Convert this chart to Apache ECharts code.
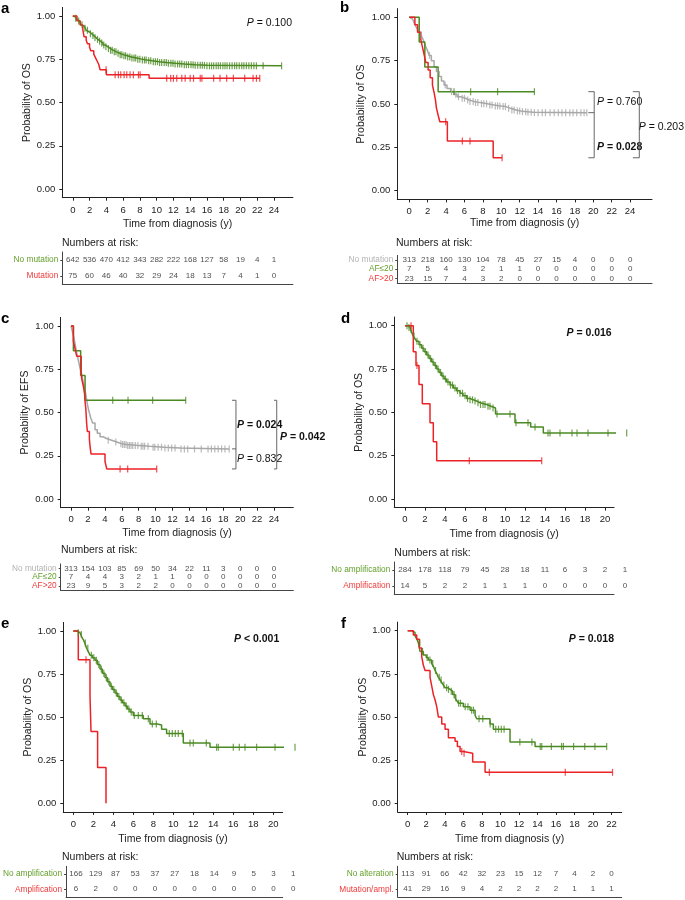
<!DOCTYPE html>
<html><head><meta charset="utf-8">
<script src="https://cdn.jsdelivr.net/npm/echarts@6/dist/echarts.min.js"></script>
<style>html,body{margin:0;padding:0;background:#fff}#c{width:685px;height:900px}</style>
</head><body><div id="c"></div>
<script>
// ---------------- DATA ----------------
const ticks24 = [0,2,4,6,8,10,12,14,16,18,20,22,24];
const ticks22 = [0,2,4,6,8,10,12,14,16,18,20,22];
const ticks20 = [0,2,4,6,8,10,12,14,16,18,20];
const yTicks = [0,0.25,0.5,0.75,1];

// Panel a
const aNoMutCurve = [[0,1],[0.15,0.995],[0.3,0.988],[0.45,0.98],[0.6,0.972],[0.8,0.962],[1.0,0.95],[1.2,0.94],[1.4,0.93],[1.6,0.918],[1.8,0.908],[2.0,0.898],[2.25,0.887],[2.5,0.876],[2.75,0.865],[3.0,0.855],[3.3,0.844],[3.6,0.832],[3.9,0.822],[4.2,0.812],[4.5,0.802],[4.85,0.793],[5.2,0.785],[5.6,0.777],[6.0,0.770],[6.5,0.763],[7.0,0.757],[7.6,0.751],[8.2,0.746],[8.8,0.741],[9.5,0.736],[10.3,0.731],[11.2,0.727],[12.2,0.723],[13.3,0.719],[14.6,0.715],[16.0,0.712],[24.9,0.712]];
const aNoMutCens = [0.35,0.7,1.1,1.45,1.75,2.1,2.4,2.65,2.95,3.2,3.45,3.7,3.95,4.25,4.5,4.7,4.95,5.15,5.4,5.65,5.85,6.1,6.3,6.55,6.8,7.05,7.3,7.5,7.75,8.0,8.3,8.55,8.75,9.05,9.3,9.6,9.85,10.1,10.35,10.6,10.9,11.15,11.4,11.7,11.95,12.2,12.5,12.75,13.0,13.3,13.55,13.8,14.1,14.35,14.6,14.9,15.2,15.45,15.7,16.0,16.3,16.55,16.8,17.1,17.35,17.6,17.9,18.15,18.4,18.7,19.0,19.3,19.55,19.85,20.15,20.4,20.7,21.0,21.3,21.6,21.9,22.7,24.9];
const aMutCurve = [[0,1],[0.5,0.973],[0.87,0.948],[1.2,0.92],[1.35,0.88],[1.6,0.86],[1.75,0.84],[2.0,0.82],[2.15,0.80],[2.5,0.78],[2.7,0.76],[2.9,0.74],[3.1,0.72],[3.25,0.69],[4.0,0.66],[9.1,0.64],[22.3,0.64]];
const aMutCens = [3.97,5.05,5.44,5.72,6.12,6.44,6.83,7.23,7.83,8.03,11.2,11.68,12.0,12.4,13.0,13.4,14.0,14.4,15.2,15.4,16.8,17.56,18.35,19.15,20.5,21.5,21.9,22.3];
const aRowLabels = ['No mutation','Mutation'];
const aRiskNoMut = [642,536,470,412,343,282,222,168,127,58,19,4,1];
const aRiskMut = [75,60,46,40,32,29,24,18,13,7,4,1,0];

// Panel b
const bNoMutCurve = [[0,1],[0.2,0.99],[0.36,0.985],[0.55,0.965],[0.72,0.946],[0.9,0.93],[1.08,0.917],[1.25,0.898],[1.44,0.879],[1.62,0.855],[1.8,0.83],[2.0,0.805],[2.16,0.78],[2.4,0.75],[2.7,0.715],[2.95,0.688],[3.24,0.658],[3.5,0.633],[3.78,0.61],[4.1,0.59],[4.5,0.571],[4.85,0.556],[5.2,0.542],[5.6,0.533],[6.1,0.523],[6.5,0.515],[7.0,0.508],[7.7,0.501],[8.47,0.494],[9.2,0.489],[9.9,0.485],[10.5,0.475],[11.0,0.465],[11.6,0.46],[12.1,0.456],[12.8,0.452],[13.5,0.45],[19.3,0.45]];
const bNoMutCens = [1.3,2.2,3.1,3.9,4.6,5.05,5.35,5.75,6.0,6.35,6.6,6.95,7.2,7.45,7.85,8.1,8.4,8.75,9.0,9.35,9.6,9.85,10.2,10.45,10.8,11.15,11.4,11.75,12.0,12.3,12.65,12.9,13.25,13.6,14.0,14.45,14.8,15.3,15.75,16.2,16.6,17.0,17.45,17.8,18.2,18.65,19.0,19.3];
const bAfLowCurve = [[0,1],[1.08,0.857],[1.69,0.714],[3.14,0.571],[13.6,0.571]];
const bAfLowCens = [4.86,6.67,9.6,13.6];
const bAfHighCurve = [[0,1],[0.61,0.957],[0.9,0.913],[1.26,0.87],[1.44,0.826],[1.62,0.783],[1.8,0.739],[2.05,0.696],[2.27,0.652],[2.52,0.609],[2.7,0.565],[2.85,0.522],[2.95,0.478],[3.14,0.435],[3.32,0.398],[4.14,0.286],[9.12,0.19],[10.09,0.19]];
const bAfHighCens = [3.96,5.77,6.6,10.09];
const bRowLabels = ['No mutation','AF≤20','AF>20'];
const bRiskNoMut = [313,218,160,130,104,78,45,27,15,4,0,0,0];
const bRiskAfLow = [7,5,4,3,2,1,1,0,0,0,0,0,0];
const bRiskAfHigh = [23,15,7,4,3,2,0,0,0,0,0,0,0];

// Panel c
const cNoMutCurve = [[0,1],[0.15,0.97],[0.3,0.94],[0.47,0.9],[0.65,0.85],[0.87,0.8],[1.05,0.76],[1.26,0.72],[1.45,0.675],[1.66,0.63],[1.8,0.59],[1.93,0.55],[2.1,0.51],[2.33,0.47],[2.55,0.44],[2.84,0.40],[3.1,0.38],[3.43,0.36],[3.8,0.35],[4.2,0.34],[4.8,0.33],[5.4,0.32],[6.0,0.315],[6.6,0.31],[8.0,0.305],[9.3,0.30],[11.0,0.295],[12.9,0.29],[18.7,0.29]];
const cNoMutCens = [4.4,5.3,5.9,6.1,6.3,6.5,6.7,6.9,7.1,7.3,7.6,7.9,8.3,8.5,8.7,9.1,9.7,9.9,10.3,10.7,11.1,11.5,11.9,12.3,13.0,13.4,13.8,14.6,15.4,16.2,16.6,17.0,17.4,17.8,18.2,18.7];
const cAfLowCurve = [[0,1],[0.28,0.857],[1.14,0.714],[1.66,0.571],[13.56,0.571]];
const cAfLowCens = [4.93,6.74,9.65,13.56];
const cAfHighCurve = [[0,1],[0.28,0.913],[0.47,0.87],[0.67,0.826],[1.2,0.739],[1.26,0.696],[1.46,0.652],[1.6,0.609],[1.66,0.565],[1.75,0.522],[1.8,0.478],[1.85,0.435],[1.93,0.391],[2.17,0.348],[2.25,0.304],[2.36,0.261],[4.02,0.217],[4.22,0.174],[10.13,0.174]];
const cAfHighCens = [5.8,6.7,10.13];
const cRowLabels = ['No mutation','AF≤20','AF>20'];
const cRiskNoMut = [313,154,103,85,69,50,34,22,11,3,0,0,0];
const cRiskAfLow = [7,4,4,3,2,1,1,0,0,0,0,0,0];
const cRiskAfHigh = [23,9,5,3,2,2,0,0,0,0,0,0,0];

// Panel d
const dNoAmpCurve = [[0,1],[0.25,0.99],[0.5,0.98],[0.67,0.96],[0.83,0.94],[1.0,0.925],[1.17,0.91],[1.4,0.89],[1.67,0.87],[1.9,0.85],[2.17,0.83],[2.4,0.81],[2.67,0.79],[2.9,0.77],[3.17,0.75],[3.4,0.73],[3.67,0.71],[3.9,0.692],[4.17,0.675],[4.5,0.657],[4.83,0.64],[5.15,0.625],[5.5,0.61],[5.8,0.595],[6.17,0.58],[6.5,0.572],[6.83,0.565],[7.15,0.555],[7.5,0.545],[8.17,0.535],[8.6,0.525],[9.05,0.49],[11.0,0.44],[12.57,0.415],[13.83,0.38],[22.17,0.38]];
const dNoAmpCens = [0.2,0.4,0.6,0.9,1.2,1.5,1.8,2.05,2.3,2.55,2.8,3.05,3.3,3.55,3.8,4.05,4.3,4.55,4.75,5.0,5.25,5.5,5.75,6.0,6.25,6.5,6.75,7.0,7.3,7.55,7.8,8.0,8.3,8.5,8.8,9.2,10.5,11.1,12.3,13.0,14.3,14.5,15.5,16.7,17.2,18.3,20.3,22.17];
const dAmpCurve = [[0,1],[0.83,0.85],[1.1,0.77],[1.4,0.66],[1.73,0.55],[2.5,0.44],[2.83,0.33],[3.17,0.22],[13.67,0.22]];
const dAmpCens = [0.6,1.2,6.43,13.67];
const dRowLabels = ['No amplification','Amplification'];
const dRiskNoAmp = [284,178,118,79,45,28,18,11,6,3,2,1];
const dRiskAmp = [14,5,2,2,1,1,1,0,0,0,0,0];

// Panel e
const eNoAmpCurve = [[0,1],[0.4,0.99],[0.67,0.98],[0.85,0.965],[1.0,0.95],[1.15,0.93],[1.33,0.9],[1.5,0.88],[1.67,0.86],[1.9,0.845],[2.17,0.83],[2.4,0.805],[2.67,0.78],[2.9,0.755],[3.17,0.73],[3.4,0.705],[3.67,0.68],[3.9,0.66],[4.17,0.64],[4.4,0.62],[4.67,0.6],[4.9,0.583],[5.17,0.565],[5.4,0.548],[5.67,0.53],[6.0,0.51],[7.0,0.49],[7.67,0.46],[8.4,0.455],[8.83,0.43],[9.33,0.405],[11.0,0.35],[13.67,0.325],[22.17,0.325]];
const eNoAmpCens = [0.5,0.8,1.2,1.45,1.8,2.05,2.3,2.55,2.8,3.05,3.3,3.55,3.8,4.05,4.3,4.55,4.8,5.05,5.3,5.55,5.8,6.1,6.5,6.9,7.5,7.9,8.3,9.6,9.9,10.2,10.5,10.9,11.67,12.0,13.3,14.33,14.5,16.0,16.6,17.17,18.33,20.17,22.17];
const eAmpCurve = [[0,1],[0.5,0.833],[1.67,0.625],[1.77,0.417],[2.43,0.208],[3.27,0]];
const eAmpCens = [1.27];
const eRowLabels = ['No amplification','Amplification'];
const eRiskNoAmp = [166,129,87,53,37,27,18,14,9,5,3,1];
const eRiskAmp = [6,2,0,0,0,0,0,0,0,0,0,0];

// Panel f
const fNoAltCurve = [[0,1],[0.43,0.99],[0.79,0.97],[1.0,0.95],[1.15,0.93],[1.33,0.88],[1.69,0.86],[2.0,0.845],[2.23,0.83],[2.59,0.81],[2.8,0.79],[2.95,0.77],[3.15,0.75],[3.31,0.73],[3.5,0.715],[3.67,0.7],[3.85,0.685],[4.03,0.67],[4.3,0.66],[4.57,0.65],[4.85,0.63],[5.11,0.61],[5.3,0.595],[5.47,0.58],[6.0,0.56],[6.73,0.54],[7.27,0.51],[7.45,0.49],[8.88,0.46],[9.24,0.43],[11.04,0.355],[13.74,0.33],[21.47,0.33]];
const fNoAltCens = [1.3,1.6,2.1,2.4,2.7,3.0,3.4,3.6,3.9,4.2,4.4,4.7,5.0,5.2,5.5,5.7,6.2,6.5,6.9,7.1,7.7,8.1,8.9,9.5,9.8,10.1,10.4,12.1,13.4,14.3,14.46,15.5,16.6,16.8,17.9,19.1,20.2,21.47];
const fAltCurve = [[0,1],[0.61,0.976],[0.97,0.95],[1.26,0.9],[1.51,0.85],[1.69,0.8],[1.87,0.77],[2.41,0.73],[2.59,0.68],[2.77,0.63],[2.95,0.6],[3.13,0.56],[3.31,0.5],[3.67,0.46],[4.03,0.43],[4.39,0.38],[5.11,0.36],[5.36,0.33],[5.65,0.3],[6.0,0.29],[7.01,0.24],[8.35,0.18],[22.1,0.18]];
const fAltCens = [5.83,6.08,8.81,17.0,22.1];
const fRowLabels = ['No alteration','Mutation/ampl.'];
const fRiskNoAlt = [113,91,66,42,32,23,15,12,7,4,2,0];
const fRiskAlt = [41,29,16,9,4,2,2,2,2,1,1,1];

// ---------------- STYLE ----------------
const FONT = "'Liberation Sans',Arial,Helvetica,sans-serif";
const GREEN = '#4b8a22', RED = '#ec2227', GRAY = '#a8a8a8';
const LG = '#64a02c', LR = '#ef3a3a', LGR = '#b3b3b3';
const AX = '#222';
const TITLE_FS = 10.5, TICK_FS = 9.5, ROW_FS = 8.3, NUM_FS = 8, P_FS = 10.5;

const panels = [
  {letter:'a', lx:1, ly:1, plot:{left:62.3,top:7.4,width:230.6,height:190.3}, xMin:-1.25, xMax:26.25, ticks:ticks24, yName:'Probability of OS', yGap:26, xGap:21, xMargin:8,
   curves:[[aNoMutCurve,aNoMutCens,GREEN],[aMutCurve,aMutCens,RED]],
   table:{top:252,height:32, rows:aRowLabels, colors:[LG,LR], values:[aRiskNoMut,aRiskMut], times:ticks24}, nar:[62,243.3],
   pvals:[{t:'{i|P} = 0.100', x:292, y:23, align:'right', bold:false}]},
  {letter:'b', lx:340, ly:0, plot:{left:397.3,top:8.6,width:254.7,height:190.8}, xMin:-1.3, xMax:26.38, ticks:ticks24, yName:'Probability of OS', yGap:31, xGap:18.5, xMargin:7,
   curves:[[bNoMutCurve,bNoMutCens,GRAY],[bAfLowCurve,bAfLowCens,GREEN],[bAfHighCurve,bAfHighCens,RED]],
   table:{top:255.4,height:27.5, rows:bRowLabels, colors:[LGR,LG,LR], values:[bRiskNoMut,bRiskAfLow,bRiskAfHigh], times:ticks24}, nar:[396,243.3],
   brackets:{inner:[19.46,20.1], outer:[24.3,25.0], top:bAfLowCurve, mid:bNoMutCurve, bot:bAfHighCurve},
   pvals:[{t:'{i|P} = 0.760', x:597, y:101.7, align:'left', bold:false},{t:'{i|P} = 0.028', x:597, y:146.7, align:'left', bold:true},{t:'{i|P} = 0.203', x:684, y:126.7, align:'right', bold:false}]},
  {letter:'c', lx:1, ly:311, plot:{left:60.7,top:317.4,width:232.6,height:190.3}, xMin:-1.22, xMax:26.28, ticks:ticks24, yName:'Probability of EFS', yGap:30, xGap:20.3, xMargin:7,
   curves:[[cNoMutCurve,cNoMutCens,GRAY],[cAfLowCurve,cAfLowCens,GREEN],[cAfHighCurve,cAfHighCens,RED]],
   table:{top:563.9,height:26.5, rows:cRowLabels, colors:[LGR,LG,LR], values:[cRiskNoMut,cRiskAfLow,cRiskAfHigh], times:ticks24}, nar:[61,550],
   brackets:{inner:[19.03,19.5], outer:[24.0,24.32], top:cAfLowCurve, mid:cNoMutCurve, bot:cAfHighCurve},
   pvals:[{t:'{i|P} = 0.024', x:237, y:425, align:'left', bold:true},{t:'{i|P} = 0.832', x:237, y:459, align:'left', bold:false},{t:'{i|P} = 0.042', x:280, y:436.7, align:'left', bold:true}]},
  {letter:'d', lx:341, ly:311, plot:{left:394.3,top:317.0,width:219.7,height:190.6}, xMin:-1.07, xMax:20.9, ticks:ticks20, yName:'Probability of OS', yGap:29.5, xGap:21.3, xMargin:7,
   curves:[[dNoAmpCurve,dNoAmpCens,GREEN],[dAmpCurve,dAmpCens,RED]],
   table:{top:562,height:32, rows:dRowLabels, colors:[LG,LR], values:[dRiskNoAmp,dRiskAmp], times:ticks22}, nar:[394.3,552.7],
   pvals:[{t:'{i|P} = 0.016', x:611.7, y:332.7, align:'right', bold:true}]},
  {letter:'e', lx:1, ly:616, plot:{left:63.3,top:622.4,width:219.4,height:189.5}, xMin:-1.0, xMax:20.94, ticks:ticks20, yName:'Probability of OS', yGap:30, xGap:22, xMargin:7,
   curves:[[eNoAmpCurve,eNoAmpCens,GREEN],[eAmpCurve,eAmpCens,RED]],
   table:{top:866.3,height:30.6, rows:eRowLabels, colors:[LG,LR], values:[eRiskNoAmp,eRiskAmp], times:ticks22}, nar:[62,856.7],
   pvals:[{t:'{i|P} < 0.001', x:279.3, y:639.3, align:'right', bold:true}]},
  {letter:'f', lx:341, ly:616, plot:{left:397.7,top:622.1,width:224,height:189.9}, xMin:-1.08, xMax:23.09, ticks:ticks22, yName:'Probability of OS', yGap:29.5, xGap:22, xMargin:7,
   curves:[[fNoAltCurve,fNoAltCens,GREEN],[fAltCurve,fAltCens,RED]],
   table:{top:866.3,height:30.6, rows:fRowLabels, colors:[LG,LR], values:[fRiskNoAlt,fRiskAlt], times:ticks22}, nar:[396.7,856.7],
   pvals:[{t:'{i|P} = 0.018', x:614, y:639.3, align:'right', bold:true}]}
];

function survAt(curve, t){ let s = curve[0][1]; for (const p of curve){ if (p[0] <= t + 1e-9) s = p[1]; } return s; }
function lastS(curve){ return curve[curve.length-1][1]; }

const option = {animation:false, backgroundColor:'#fff', grid:[], xAxis:[], yAxis:[], series:[], graphic:[]};

panels.forEach(p => {
  const gi = option.grid.length;
  option.grid.push({left:p.plot.left, top:p.plot.top, width:p.plot.width, height:p.plot.height});
  option.xAxis.push({type:'value', gridIndex:gi, min:p.xMin, max:p.xMax,
    name:'Time from diagnosis (y)', nameLocation:'middle', nameGap:p.xGap,
    nameTextStyle:{fontSize:TITLE_FS, color:'#222', fontFamily:FONT},
    axisLine:{show:true, onZero:false, lineStyle:{color:AX, width:1}},
    axisTick:{show:true, length:3, customValues:p.ticks, lineStyle:{color:AX}},
    axisLabel:{customValues:p.ticks, fontSize:TICK_FS, color:'#222', fontFamily:FONT, margin:p.xMargin},
    splitLine:{show:false}});
  option.yAxis.push({type:'value', gridIndex:gi, min:-0.05, max:1.05,
    name:p.yName, nameLocation:'middle', nameGap:p.yGap, nameRotate:90,
    nameTextStyle:{fontSize:TITLE_FS, color:'#222', fontFamily:FONT},
    axisLine:{show:true, onZero:false, lineStyle:{color:AX, width:1}},
    axisTick:{show:true, length:3, customValues:yTicks, lineStyle:{color:AX}},
    axisLabel:{customValues:yTicks, fontSize:TICK_FS, color:'#222', fontFamily:FONT, margin:7, formatter:v=>v.toFixed(2)},
    splitLine:{show:false}});

  if (p.brackets){
    const b = p.brackets, yt = lastS(b.top), ym = lastS(b.mid), yb = lastS(b.bot);
    const br = (d) => ({type:'line', xAxisIndex:gi, yAxisIndex:gi, data:d, symbol:'none', clip:false, silent:true,
      lineStyle:{color:'#555', width:0.9}, z:1});
    option.series.push(br([[b.inner[0],yt],[b.inner[1],yt],[b.inner[1],yb],[b.inner[0],yb]]));
    option.series.push(br([[b.inner[0],ym],[b.inner[1],ym]]));
    option.series.push(br([[b.outer[0],yt],[b.outer[1],yt],[b.outer[1],yb],[b.outer[0],yb]]));
  }

  p.curves.forEach(([curve, cens, color]) => {
    option.series.push({type:'line', xAxisIndex:gi, yAxisIndex:gi, data:curve, step:'end', symbol:'none', clip:false,
      lineStyle:{color:color, width:1.5}, silent:true, z:3});
    option.series.push({type:'scatter', xAxisIndex:gi, yAxisIndex:gi, clip:false, silent:true, z:4,
      data:cens.map(t => [t, survAt(curve, t)]), symbol:'rect', symbolSize:[1.2,7],
      itemStyle:{color:color, opacity:0.8}});
  });

  const ti = option.grid.length;
  option.grid.push({left:p.plot.left, top:p.table.top, width:p.plot.width, height:p.table.height});
  option.xAxis.push({type:'value', gridIndex:ti, min:p.xMin, max:p.xMax,
    axisLine:{show:true, onZero:false, lineStyle:{color:'#444', width:1}},
    axisTick:{show:false}, axisLabel:{show:false}, splitLine:{show:false}});
  const cols = p.table.colors;
  option.yAxis.push({type:'category', gridIndex:ti, data:p.table.rows, inverse:true,
    axisLine:{show:true, onZero:false, lineStyle:{color:'#444', width:1}},
    axisTick:{show:true, length:2, alignWithLabel:true, interval:0, lineStyle:{color:'#444'}},
    axisLabel:{interval:0, fontSize:ROW_FS, fontFamily:FONT, margin:4, color:(v, i) => cols[i]},
    splitLine:{show:false}});
  const tdata = [];
  p.table.values.forEach((row, r) => row.forEach((v, j) => tdata.push([p.table.times[j], r, v])));
  option.series.push({type:'scatter', xAxisIndex:ti, yAxisIndex:ti, data:tdata, clip:false, silent:true,
    symbolSize:0.1, itemStyle:{color:'transparent'},
    label:{show:true, position:'inside', formatter:q => String(q.value[2]), fontSize:NUM_FS, color:'#222', fontFamily:FONT}});

  option.graphic.push({type:'text', x:p.lx, y:p.ly, silent:true,
    style:{text:p.letter, fontSize:15, fontWeight:'bold', fontFamily:FONT, fill:'#000', verticalAlign:'top'}});
  option.graphic.push({type:'text', x:p.nar[0], y:p.nar[1], silent:true,
    style:{text:'Numbers at risk:', fontSize:TITLE_FS, fontFamily:FONT, fill:'#222', verticalAlign:'middle'}});
  p.pvals.forEach(pv => {
    const fw = pv.bold ? 'bold' : 'normal';
    option.graphic.push({type:'text', x:pv.x, y:pv.y, silent:true,
      style:{text:pv.t, fontSize:P_FS, fontFamily:FONT, fontWeight:fw, fill:'#111', align:pv.align, verticalAlign:'middle',
        rich:{i:{fontStyle:'italic', fontSize:P_FS, fontFamily:FONT, fontWeight:fw, fill:'#111'}}}});
  });
});

const chart = echarts.init(document.getElementById('c'), null, {renderer:'canvas'});
chart.setOption(option);
</script>
</body></html>
